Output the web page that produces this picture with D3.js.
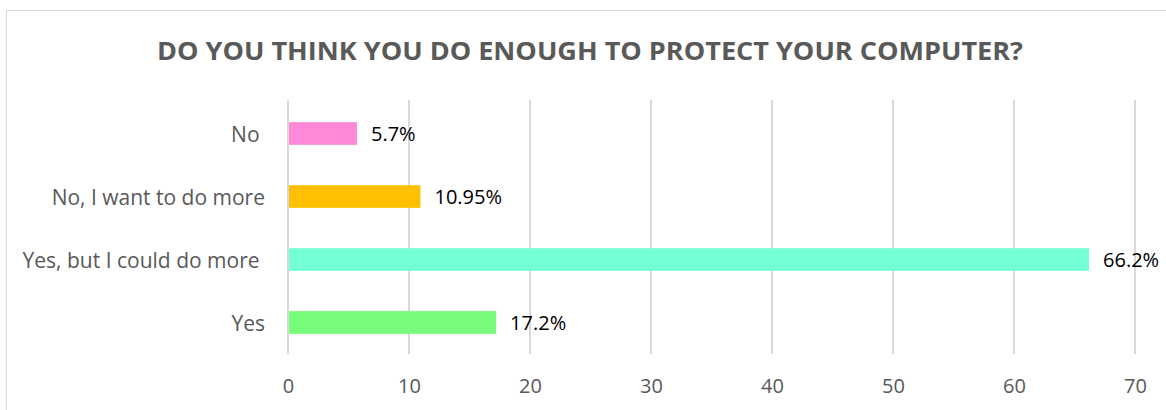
<!DOCTYPE html>
<html>
<head>
<meta charset="utf-8">
<script src="https://cdn.jsdelivr.net/npm/d3@7"></script>
<style>
  body { margin: 0; background: #fff; }
  text { font-family: "Open Sans", sans-serif; white-space: pre; }
</style>
</head>
<body>
<script>
var categories = ["No ", "No, I want to do more", "Yes, but I could do more ", "Yes"];
var values = [5.7, 10.95, 66.2, 17.2];
var valueLabels = ["5.7%", "10.95%", "66.2%", "17.2%"];
var colors = ["#ff88d8", "#ffc000", "#75ffd6", "#76fc7a"];
var tickValues = [0, 10, 20, 30, 40, 50, 60, 70];

var width = 1166, height = 410;
var margin = {top: 100, right: 31, bottom: 56, left: 288};

var svg = d3.select("body")
    .append("svg")
    .attr("width", width)
    .attr("height", height);

// chart border
svg.append("rect")
    .attr("x", 6.5)
    .attr("y", 10.5)
    .attr("width", 1180)
    .attr("height", 420)
    .style("fill", "none")
    .style("stroke", "#d9d9d9");

svg.append("text")
    .attr("x", 157)
    .attr("y", 60)
    .attr("textLength", 866)
    .attr("lengthAdjust", "spacingAndGlyphs")
    .style("font-size", "25px")
    .style("font-weight", "bold")
    .style("fill", "#595959")
    .text("DO YOU THINK YOU DO ENOUGH TO PROTECT YOUR COMPUTER?");

var x = d3.scaleLinear()
    .domain([0, 70])
    .range([margin.left, 1135]);

var y = d3.scaleBand()
    .domain(categories)
    .range([margin.top + 2, height - margin.bottom])
    .paddingInner(0.64)
    .paddingOuter(0.32);

// gridlines
svg.append("g")
    .selectAll("line")
    .data(tickValues)
    .enter()
    .append("line")
    .attr("x1", function(d) { return x(d); })
    .attr("x2", function(d) { return x(d); })
    .attr("y1", margin.top)
    .attr("y2", height - margin.bottom)
    .style("stroke", "#d9d9d9")
    .style("stroke-width", 2);

// x axis labels
var xAxis = d3.axisBottom(x)
    .tickValues(tickValues)
    .tickSize(0)
    .tickPadding(0);

var gx = svg.append("g")
    .attr("transform", "translate(0," + 379 + ")")
    .call(xAxis);
gx.select(".domain").remove();
gx.selectAll("text")
    .style("font-size", "20px")
    .style("fill", "#595959")
    .style("font-family", "'Open Sans', sans-serif");

// bars
svg.append("g")
    .selectAll("rect")
    .data(values)
    .enter()
    .append("rect")
    .attr("x", x(0) + 1)
    .attr("y", function(d, i) { return y(categories[i]); })
    .attr("width", function(d) { return x(d) - x(0) - 1; })
    .attr("height", y.bandwidth())
    .style("fill", function(d, i) { return colors[i]; });

// value labels
svg.append("g")
    .selectAll("text")
    .data(values)
    .enter()
    .append("text")
    .attr("x", function(d) { return x(d) + 14; })
    .attr("y", function(d, i) { return y(categories[i]) + y.bandwidth() / 2; })
    .attr("dy", "0.38em")
    .style("font-size", "20px")
    .style("fill", "#000")
    .text(function(d, i) { return valueLabels[i]; });

// category labels
svg.append("g")
    .selectAll("text")
    .data(categories)
    .enter()
    .append("text")
    .attr("x", 265)
    .attr("y", function(d) { return y(d) + y.bandwidth() / 2; })
    .attr("dy", "0.4em")
    .attr("text-anchor", "end")
    .style("font-size", "21px")
    .style("fill", "#595959")
    .text(function(d) { return d; });
</script>
</body>
</html>
